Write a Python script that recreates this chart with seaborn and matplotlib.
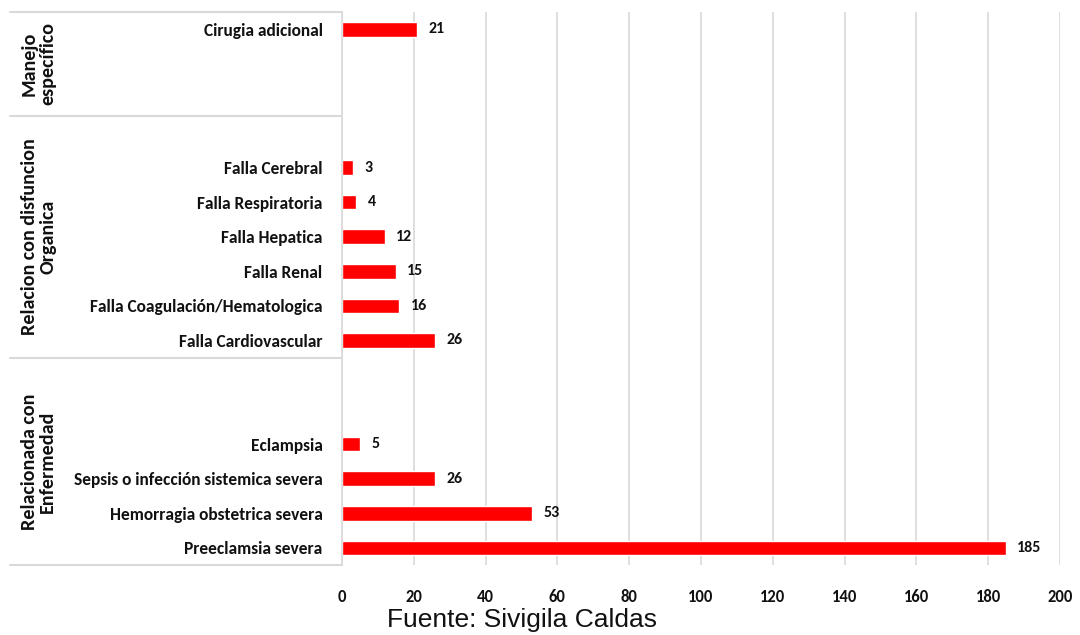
import matplotlib
matplotlib.use("Agg")
from matplotlib import pyplot as plt
from matplotlib import font_manager
from matplotlib.transforms import blended_transform_factory
import numpy as np
import pandas as pd
import seaborn as sns

# rows top to bottom, "" = empty slot
causes = ["Cirugia adicional", "", "",
          "", "Falla Cerebral", "Falla Respiratoria", "Falla Hepatica",
          "Falla Renal", "Falla Coagulación/Hematologica", "Falla Cardiovascular",
          "", "", "Eclampsia", "Sepsis o infección sistemica severa",
          "Hemorragia obstetrica severa", "Preeclamsia severa"]
cases = [21, np.nan, np.nan,
         np.nan, 3, 4, 12, 15, 16, 26,
         np.nan, np.nan, 5, 26, 53, 185]
groups = ["Manejo\nespecífico", "Relacion con disfuncion\nOrganica",
          "Relacionada con\nEnfermedad"]
group_rows = [3, 7, 6]
xticks = list(range(0, 201, 20))

names = {f.name for f in font_manager.fontManager.ttflist}
main = "DejaVu Sans"
for cand in ["Carlito", "Roboto Condensed", "Liberation Sans Narrow", "Lato"]:
    if cand in names:
        main = cand
        break

sns.set_style("white")
plt.rcParams["font.family"] = [main, "DejaVu Sans"]

keys = [f"r{i}" for i in range(len(causes))]
df = pd.DataFrame({"key": keys, "cases": cases})

fig = plt.figure(figsize=(10.8, 6.35), dpi=100)
ax = fig.add_axes([0.3167, 0.110, 0.6648, 0.871])
sns.barplot(data=df, y="key", x="cases", order=keys, orient="h",
            color="#ff0000", saturation=1, width=0.42, ax=ax)

ax.set_xlim(0, 200)
ax.set_ylim(len(keys) - 0.5, -0.5)
ax.set_xticks(xticks)
ax.set_xticklabels([str(t) for t in xticks], fontsize=12, fontweight="bold",
                   color="#111111")
ax.set_yticks(range(len(keys)))
ax.set_yticklabels(causes, fontsize=12.5, fontweight="bold", color="#111111")
ax.tick_params(axis="both", length=0)
ax.tick_params(axis="x", pad=17)
ax.tick_params(axis="y", pad=14)
ax.set_xlabel("")
ax.set_ylabel("")
ax.grid(axis="x", color="#d9d9d9", linewidth=1.2)
ax.set_axisbelow(True)
for s in ["top", "right", "bottom"]:
    ax.spines[s].set_visible(False)
ax.spines["left"].set_color("#d9d9d9")
ax.spines["left"].set_linewidth(1.2)

ax.bar_label(ax.containers[0], padding=8, fontsize=11.5, fontweight="bold",
             color="#111111")

# group brackets on the left
tr = blended_transform_factory(ax.transAxes, ax.transData)
edges = np.concatenate([[0], np.cumsum(group_rows)]) - 0.5
for e in edges:
    ax.plot([-0.463, 0], [e, e], transform=tr, color="#d9d9d9",
            linewidth=1.5, clip_on=False)
for g, a, b in zip(groups, edges[:-1], edges[1:]):
    ax.text(-0.423, (a + b) / 2, g, transform=tr, rotation=90,
            ha="center", va="center", fontsize=14.5, fontweight="bold",
            multialignment="center", linespacing=1.1, color="#111111")

fig.text(0.483, 0.024, "Fuente: Sivigila Caldas", ha="center", va="center",
         fontsize=19, color="#111111", family=["Liberation Sans", "DejaVu Sans"])

fig.savefig("out.png", dpi=100)
